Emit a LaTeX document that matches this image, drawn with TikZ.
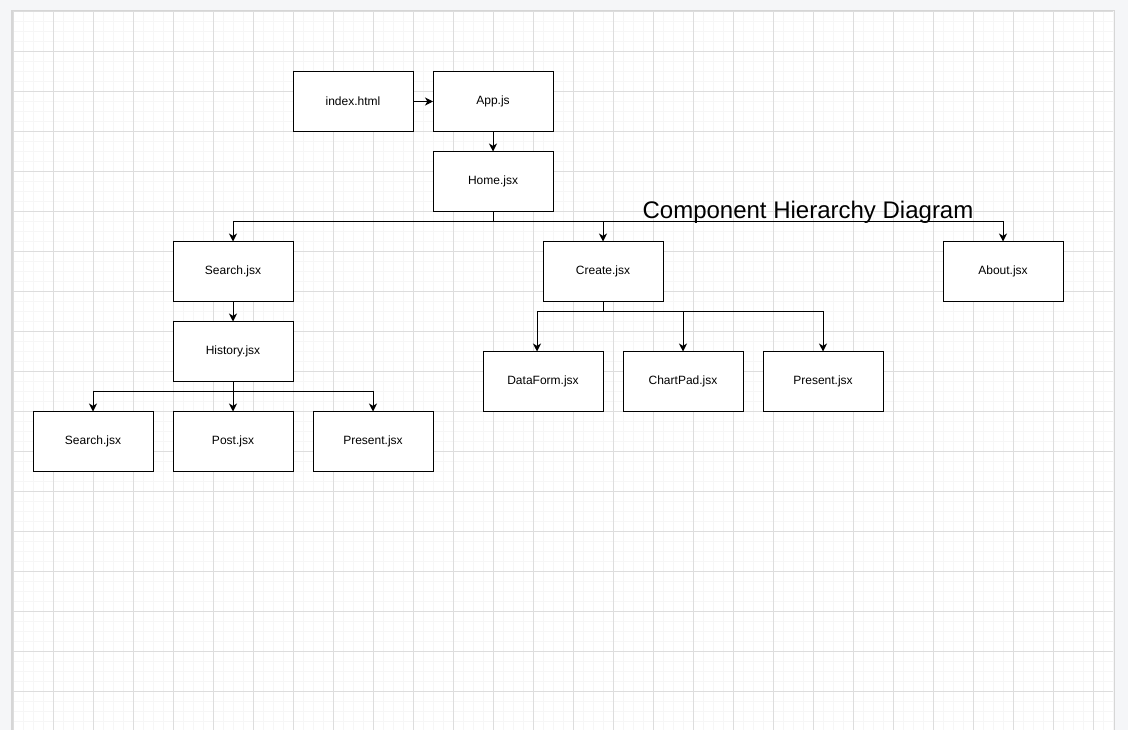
\documentclass[tikz,border=0pt]{standalone}
\usepackage{fontspec}
\setmainfont{Liberation Sans}
\usetikzlibrary{positioning,arrows.meta}
\definecolor{pagebg}{HTML}{F5F6F8}
\definecolor{gridmajor}{HTML}{DDDDDD}
\definecolor{gridminor}{HTML}{F6F6F6}
\definecolor{canvasedge}{HTML}{D6D6D6}
\tikzset{
  comp box/.style={rectangle, draw=black, fill=white, line width=0.75pt, minimum width=90pt, minimum height=45pt, inner sep=0pt, outer sep=0pt, align=center, font=\fontsize{9}{11}\selectfont},
  comp link/.style={draw=black, line width=0.75pt},
  comp arrow/.style={comp link, -{Stealth[length=6pt, width=6pt, inset=1.8pt]}},
  grid minor/.style={draw=gridminor, line width=0.6pt},
  grid major/.style={draw=gridmajor, line width=0.75pt}
}

\begin{document}
\begin{tikzpicture}[x=0.75pt, y=-0.75pt]
    % Page and canvas
    \useasboundingbox (0,0) rectangle (1128,730);
    \fill [pagebg] (0,0) rectangle (1128,730);
    \filldraw [fill=white, draw=canvasedge, line width=1pt] (12,10.5) rectangle (1114,735);
    \foreach \gx in {13,23,...,1113} \draw [grid minor] (\gx,11.5) -- (\gx,730);
    \foreach \gy in {11.5,21.5,...,721.5} \draw [grid minor] (13,\gy) -- (1113,\gy);
    \foreach \gx in {13,53,...,1093} \draw [grid major] (\gx,11.5) -- (\gx,730);
    \foreach \gy in {11.5,51.5,...,691.5} \draw [grid major] (13,\gy) -- (1113,\gy);

    % Entry
    \node [comp box] (Index) at (353,101.5) {index.html};
    \node [comp box, right=15pt of Index] (App) {App.js};
    \node [comp box, below=15pt of App] (Home) {Home.jsx};
    \draw [comp arrow] (Index) -- (App);
    \draw [comp arrow] (App) -- (Home);

    % Pages
    \node [comp box] (Search) at (233,271.5) {Search.jsx};
    \node [comp box] (Create) at (603,271.5) {Create.jsx};
    \node [comp box] (About) at (1003,271.5) {About.jsx};
    \draw [comp link] (Home.south) -- ++(0,10) coordinate (HomeBus);
    \draw [comp arrow] (HomeBus) -| (Search.north);
    \draw [comp arrow] (HomeBus) -| (Create.north);
    \draw [comp arrow] (HomeBus) -| (About.north);

    % Title
    \node [anchor=base, font=\fontsize{18}{22}\selectfont, inner sep=0pt] (Title) at (808,219) {Component Hierarchy Diagram};

    % Search branch
    \node [comp box, below=15pt of Search] (History) {History.jsx};
    \draw [comp arrow] (Search) -- (History);
    \node [comp box] (HSearch) at (93,441.5) {Search.jsx};
    \node [comp box, right=15pt of HSearch] (HPost) {Post.jsx};
    \node [comp box, right=15pt of HPost] (HPresent) {Present.jsx};
    \draw [comp link] (History.south) -- ++(0,10) coordinate (HistoryBus);
    \draw [comp arrow] (HistoryBus) -| (HSearch.north);
    \draw [comp arrow] (HistoryBus) -| (HPost.north);
    \draw [comp arrow] (HistoryBus) -| (HPresent.north);

    % Create branch
    \node [comp box] (DataForm) at (543,381.5) {DataForm.jsx};
    \node [comp box, right=15pt of DataForm] (ChartPad) {ChartPad.jsx};
    \node [comp box, right=15pt of ChartPad] (CPresent) {Present.jsx};
    \draw [comp link] (Create.south) -- ++(0,10) coordinate (CreateBus);
    \draw [comp arrow] (CreateBus) -| ([xshift=-4.5pt]DataForm.north);
    \draw [comp arrow] (CreateBus) -| (ChartPad.north);
    \draw [comp arrow] (CreateBus) -| (CPresent.north);
\end{tikzpicture}
\end{document}
